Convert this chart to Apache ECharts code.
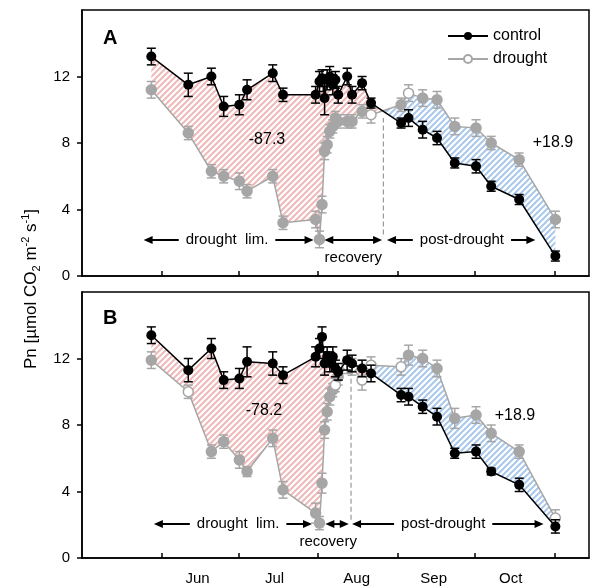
<!DOCTYPE html>
<html>
<head>
<meta charset="utf-8">
<script src="https://cdn.jsdelivr.net/npm/echarts@6.0.0/dist/echarts.min.js"></script>
<style>
html,body{margin:0;padding:0;background:#fff}
#main{width:592px;height:586px}
</style>
</head>
<body>
<div id="main"></div>
<script>
var FONT = 'Liberation Sans, Arial, sans-serif';

// x axis in day of year (May 1 = 121)
var monthTicks = [152, 182, 213, 244, 274, 305];
var monthLabelPos = [166, 196, 228, 258, 288];
var monthNames = ['Jun', 'Jul', 'Aug', 'Sep', 'Oct'];
var yTicks = [0, 4, 8, 12];

// measurement days (shared by both panels)
var days = [148, 162.4, 171.4, 176.2, 182.3, 185.3, 195.3, 199.3, 212, 213.5,
    214.5, 215.5, 216.5, 217.5, 218.7, 219.7, 220.8, 224.3, 226.2, 230.1,
    233.6, 245.3, 248.2, 253.7, 259.3, 266.2, 274.5, 280.4, 291.3, 305.4];

// panel A
var controlA = [13.2, 11.5, 12.0, 10.2, 10.3, 11.2, 12.2, 10.9, 10.9, 11.7,
    11.9, 10.7, 11.8, 12.0, 11.5, 11.8, 10.9, 12.0, 10.9, 11.6,
    10.4, 9.2, 9.5, 8.8, 8.3, 6.8, 6.6, 5.4, 4.6, 1.2];
var controlErrA = [0.5, 0.7, 0.5, 0.6, 0.6, 0.6, 0.5, 0.4, 0.5, 0.6,
    0.5, 1.0, 0.6, 0.6, 0.6, 0.5, 0.5, 0.5, 0.5, 0.4,
    0.3, 0.3, 0.5, 0.5, 0.4, 0.3, 0.4, 0.3, 0.3, 0.3];
var droughtA = [11.2, 8.6, 6.3, 6.0, 5.7, 5.1, 6.0, 3.2, 3.4, 2.2,
    4.3, 7.5, 7.9, 8.7, 9.0, 9.5, 9.3, 9.3, 9.3, 9.9,
    9.7, 10.3, 11.0, 10.7, 10.6, 9.0, 8.9, 8.0, 7.0, 3.4];
var droughtErrA = [0.5, 0.4, 0.4, 0.4, 0.5, 0.4, 0.4, 0.4, 0.5, 0.5,
    0.5, 0.5, 0.5, 0.4, 0.4, 0.4, 0.4, 0.4, 0.4, 0.4,
    0.5, 0.4, 0.5, 0.5, 0.5, 0.5, 0.5, 0.4, 0.4, 0.5];
var droughtOpenA = [20, 22];

// panel B
var controlB = [13.4, 11.3, 12.6, 10.7, 10.8, 11.8, 11.7, 11.0, 12.1, 12.6,
    13.3, 11.7, 12.1, 11.8, 12.1, 11.4, 11.2, 11.9, 11.7, 11.4,
    11.1, 9.8, 9.7, 9.1, 8.5, 6.3, 6.4, 5.2, 4.4, 1.9];
var controlErrB = [0.5, 0.7, 0.6, 0.5, 0.6, 0.9, 0.7, 0.5, 0.6, 0.6,
    0.6, 0.7, 0.6, 0.6, 0.6, 0.5, 0.5, 0.6, 0.5, 0.5,
    0.5, 0.4, 0.5, 0.4, 0.5, 0.3, 0.4, 0.2, 0.4, 0.4];
var droughtB = [11.9, 10.0, 6.4, 7.0, 5.9, 5.2, 7.2, 4.1, 2.7, 2.1,
    4.5, 7.7, 8.8, 9.7, 10.1, 10.4, 10.9, 11.6, 11.5, 10.7,
    11.6, 11.5, 12.2, 12.0, 11.4, 8.4, 8.6, 7.5, 6.4, 2.4];
var droughtErrB = [0.5, 0.4, 0.4, 0.4, 0.5, 0.3, 0.5, 0.5, 0.6, 0.4,
    0.6, 0.5, 0.5, 0.5, 0.4, 0.4, 0.5, 0.5, 0.5, 0.6,
    0.5, 0.5, 0.6, 0.5, 0.5, 0.6, 0.5, 0.5, 0.4, 0.5];
var droughtOpenB = [1, 15, 17, 18, 19, 20, 21, 29];

// phase annotations: [startDay, endDay, level, text, textDay, mode]
var phasesA = [[145, 211.2, 2.16, 'drought  lim.', 177.5, 'gap'],
    [215.4, 237.9, 2.16, 'recovery', 226.7, 'below'],
    [239.8, 297.6, 2.16, 'post-drought', 269, 'gap']];
var phasesB = [[149, 210.6, 2.04, 'drought  lim.', 181.8, 'gap'],
    [215.8, 224.9, 2.04, 'recovery', 216.9, 'below'],
    [226.2, 300.8, 2.04, 'post-drought', 261.7, 'gap']];
// dashed phase boundary: [day, from, to]
var boundaryA = [238.4, 2.5, 9.5];
var boundaryB = [225.8, 2.3, 11.6];

var GRAY = '#a6a6a6';

function hatch(color) {
    var c = document.createElement('canvas');
    c.width = 6; c.height = 6;
    var g = c.getContext('2d');
    g.strokeStyle = color;
    g.lineWidth = 2;
    g.beginPath();
    g.moveTo(0, 6); g.lineTo(6, 0);
    g.moveTo(-1, 1); g.lineTo(1, -1);
    g.moveTo(5, 7); g.lineTo(7, 5);
    g.stroke();
    return c;
}
var redHatch = hatch('#f0b9b9');
var blueHatch = hatch('#a9c8ec');

// split area between curves into runs of the same sign
function fillRuns(xs, c, d) {
    var runs = [], cur;
    function start(sign, x, yc, yd) {
        cur = {sign: sign, top: [[x, yc]], bot: [[x, yd]]};
        runs.push(cur);
    }
    start(c[0] - d[0] >= 0 ? 1 : -1, xs[0], c[0], d[0]);
    for (var i = 1; i < xs.length; i++) {
        var e0 = c[i - 1] - d[i - 1], e1 = c[i] - d[i];
        if (e0 * e1 < 0) {
            var t = e0 / (e0 - e1);
            var xm = xs[i - 1] + t * (xs[i] - xs[i - 1]);
            var ym = c[i - 1] + t * (c[i] - c[i - 1]);
            cur.top.push([xm, ym]); cur.bot.push([xm, ym]);
            start(e1 > 0 ? 1 : -1, xm, ym, ym);
        }
        cur.top.push([xs[i], c[i]]);
        cur.bot.push([xs[i], d[i]]);
    }
    return runs;
}

function fillSeries(idx, c, d) {
    var runs = fillRuns(days, c, d);
    return {
        type: 'custom', xAxisIndex: idx, yAxisIndex: idx, z: 1, silent: true,
        data: [[days[0], c[0]]],
        renderItem: function (params, api) {
            var children = runs.map(function (r) {
                var pts = r.top.concat(r.bot.slice().reverse()).map(function (p) { return api.coord(p); });
                return {type: 'polygon', shape: {points: pts},
                    style: {fill: {image: r.sign > 0 ? redHatch : blueHatch, repeat: 'repeat'}, stroke: 'none', lineWidth: 0}};
            });
            return {type: 'group', children: children};
        }
    };
}

function errSeries(idx, vals, errs, color, z) {
    var data = days.map(function (x, i) { return [x, vals[i] - errs[i], vals[i] + errs[i]]; });
    return {
        type: 'custom', xAxisIndex: idx, yAxisIndex: idx, z: z, silent: true,
        data: data,
        encode: {x: 0, y: [1, 2]},
        renderItem: function (params, api) {
            var lo = api.coord([api.value(0), api.value(1)]);
            var hi = api.coord([api.value(0), api.value(2)]);
            var hw = 4.5;
            function st() { return {stroke: color, lineWidth: 1.5}; }
            return {type: 'group', children: [
                {type: 'line', shape: {x1: lo[0], y1: lo[1], x2: hi[0], y2: hi[1]}, style: st()},
                {type: 'line', shape: {x1: lo[0] - hw, y1: lo[1], x2: lo[0] + hw, y2: lo[1]}, style: st()},
                {type: 'line', shape: {x1: hi[0] - hw, y1: hi[1], x2: hi[0] + hw, y2: hi[1]}, style: st()}
            ]};
        }
    };
}

function annotSeries(idx, phases, boundary) {
    return {
        type: 'custom', xAxisIndex: idx, yAxisIndex: idx, z: 2, silent: true,
        data: [[boundary[0], boundary[1]]],
        renderItem: function (params, api) {
            var ch = [];
            var b0 = api.coord([boundary[0], boundary[1]]), b1 = api.coord([boundary[0], boundary[2]]);
            ch.push({type: 'line', shape: {x1: b0[0], y1: b0[1], x2: b1[0], y2: b1[1]},
                style: {stroke: '#999', lineWidth: 1.2, lineDash: [5, 3]}});
            phases.forEach(function (p) {
                var a = api.coord([p[0], p[2]]), b = api.coord([p[1], p[2]]);
                var L = 9, W = 4;
                ch.push({type: 'line', shape: {x1: a[0] + 4, y1: a[1], x2: b[0] - 4, y2: b[1]},
                    style: {stroke: '#000', lineWidth: 2}});
                ch.push({type: 'polygon', shape: {points: [[a[0], a[1]], [a[0] + L, a[1] - W], [a[0] + L, a[1] + W]]},
                    style: {fill: '#000'}});
                ch.push({type: 'polygon', shape: {points: [[b[0], b[1]], [b[0] - L, b[1] - W], [b[0] - L, b[1] + W]]},
                    style: {fill: '#000'}});
                var t = api.coord([p[4], p[2]]);
                if (p[5] === 'gap') {
                    ch.push({type: 'text', x: t[0], y: t[1], z2: 10,
                        style: {text: p[3], fill: '#000', font: '15px ' + FONT, align: 'center', verticalAlign: 'middle',
                            backgroundColor: '#fff', padding: [1, 7]}});
                } else {
                    ch.push({type: 'text', x: t[0], y: t[1] + 18, z2: 10,
                        style: {text: p[3], fill: '#000', font: '15px ' + FONT, align: 'center', verticalAlign: 'middle'}});
                }
            });
            return {type: 'group', children: ch};
        }
    };
}

function controlSeries(idx, vals) {
    return {
        name: 'control', type: 'line', xAxisIndex: idx, yAxisIndex: idx, z: 6,
        data: days.map(function (x, i) { return [x, vals[i]]; }),
        symbol: 'circle', symbolSize: 10,
        itemStyle: {color: '#000'},
        lineStyle: {color: '#000', width: 1.5}
    };
}

function droughtSeries(idx, vals, open) {
    return {
        name: 'drought', type: 'line', xAxisIndex: idx, yAxisIndex: idx, z: 4,
        data: days.map(function (x, i) {
            return {value: [x, vals[i]], itemStyle: {color: open.indexOf(i) >= 0 ? '#fff' : GRAY}};
        }),
        symbol: 'circle', symbolSize: 10,
        itemStyle: {color: '#fff', borderColor: GRAY, borderWidth: 1.5},
        lineStyle: {color: GRAY, width: 1.5}
    };
}

function xAxis(idx, labels) {
    return {
        type: 'value', gridIndex: idx, min: 121, max: 318.5,
        axisLine: {show: true, lineStyle: {color: '#000', width: 1.5}},
        axisTick: {show: true, inside: true, length: 5, customValues: monthTicks, lineStyle: {color: '#000', width: 1.5}},
        axisLabel: {show: labels, customValues: monthLabelPos, margin: 13, color: '#000', fontSize: 15, fontFamily: FONT,
            formatter: function (v) { var i = monthLabelPos.indexOf(v); return i >= 0 ? monthNames[i] : ''; }},
        splitLine: {show: false}
    };
}

function yAxis(idx) {
    return {
        type: 'value', gridIndex: idx, min: 0, max: 16, interval: 4,
        axisLine: {show: true, lineStyle: {color: '#000', width: 1.5}},
        axisTick: {show: true, length: 5, customValues: yTicks, lineStyle: {color: '#000', width: 1.5}},
        axisLabel: {customValues: yTicks, margin: 12, color: '#000', fontSize: 15, fontFamily: FONT},
        splitLine: {show: false}
    };
}

var myChart = echarts.init(document.getElementById('main'));

var option = {
    animation: false,
    backgroundColor: '#fff',
    textStyle: {fontFamily: FONT},
    grid: [
        {left: 82, top: 10, width: 507, height: 266, show: true, borderColor: '#000', borderWidth: 1.5, containLabel: false},
        {left: 82, top: 292, width: 507, height: 266, show: true, borderColor: '#000', borderWidth: 1.5, containLabel: false}
    ],
    xAxis: [xAxis(0, false), xAxis(1, true)],
    yAxis: [yAxis(0), yAxis(1)],
    legend: {
        data: ['control', 'drought'], orient: 'vertical', left: 442, top: 23,
        itemWidth: 40, itemHeight: 10, itemGap: 7,
        textStyle: {color: '#000', fontSize: 16, fontFamily: FONT}
    },
    graphic: [
        {type: 'text', x: 103, y: 38, z: 100, style: {text: 'A', font: 'bold 20px ' + FONT, fill: '#000', align: 'left', verticalAlign: 'middle'}},
        {type: 'text', x: 103, y: 318, z: 100, style: {text: 'B', font: 'bold 20px ' + FONT, fill: '#000', align: 'left', verticalAlign: 'middle'}},
        {type: 'text', x: 267, y: 140, z: 100, style: {text: '-87.3', font: '16px ' + FONT, fill: '#000', align: 'center', verticalAlign: 'middle'}},
        {type: 'text', x: 553, y: 143, z: 100, style: {text: '+18.9', font: '16px ' + FONT, fill: '#000', align: 'center', verticalAlign: 'middle'}},
        {type: 'text', x: 264, y: 411, z: 100, style: {text: '-78.2', font: '16px ' + FONT, fill: '#000', align: 'center', verticalAlign: 'middle'}},
        {type: 'text', x: 515, y: 416, z: 100, style: {text: '+18.9', font: '16px ' + FONT, fill: '#000', align: 'center', verticalAlign: 'middle'}},
        {type: 'text', x: 31, y: 289, z: 100, rotation: Math.PI / 2,
            style: {text: '{n|Pn [µmol CO}{s|2}{n| m}{p|-2}{n| s}{p|-1}{n|]}', fill: '#000',
                align: 'center', verticalAlign: 'middle',
                rich: {
                    n: {fontSize: 17, fontFamily: FONT, lineHeight: 22, fill: '#000'},
                    s: {fontSize: 11, fontFamily: FONT, verticalAlign: 'bottom', fill: '#000'},
                    p: {fontSize: 11, fontFamily: FONT, verticalAlign: 'top', fill: '#000'}
                }}}
    ],
    series: [
        fillSeries(0, controlA, droughtA),
        annotSeries(0, phasesA, boundaryA),
        errSeries(0, droughtA, droughtErrA, GRAY, 3),
        droughtSeries(0, droughtA, droughtOpenA),
        errSeries(0, controlA, controlErrA, '#000', 5),
        controlSeries(0, controlA),

        fillSeries(1, controlB, droughtB),
        annotSeries(1, phasesB, boundaryB),
        errSeries(1, droughtB, droughtErrB, GRAY, 3),
        droughtSeries(1, droughtB, droughtOpenB),
        errSeries(1, controlB, controlErrB, '#000', 5),
        controlSeries(1, controlB)
    ]
};

myChart.setOption(option);
</script>
</body>
</html>
